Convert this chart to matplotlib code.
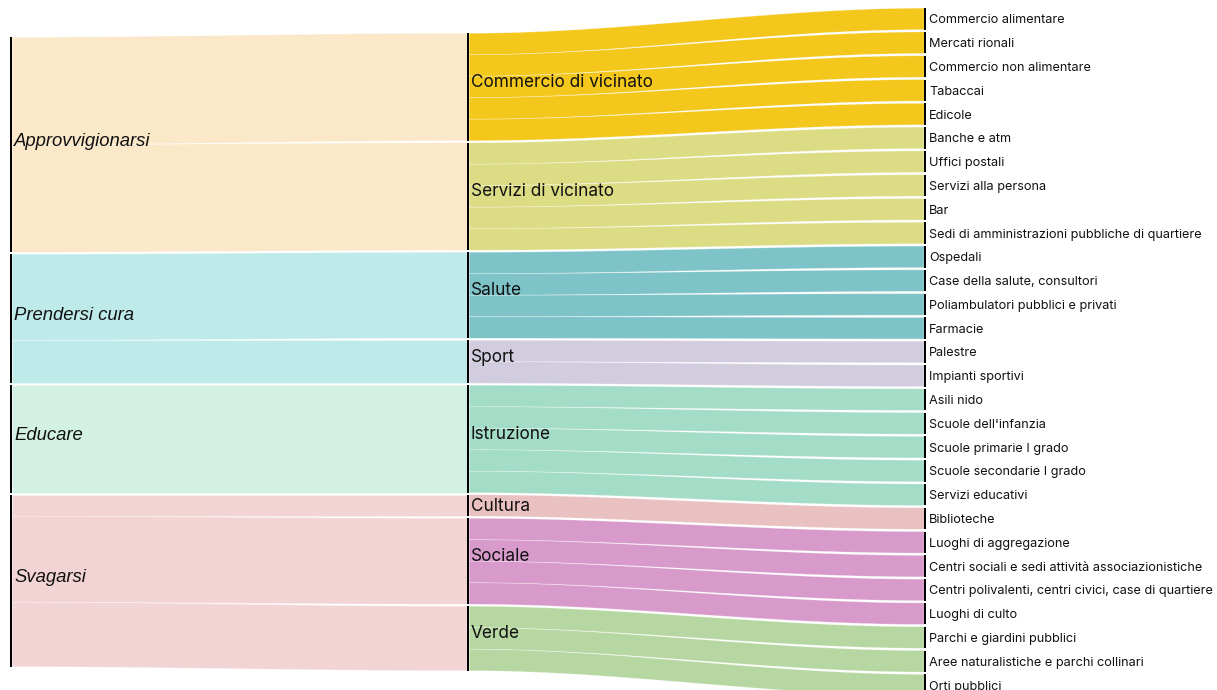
import numpy as np
import matplotlib
matplotlib.use("Agg")
import matplotlib.pyplot as plt

# ---------------- data ----------------
left_names = ["Approvvigionarsi", "Prendersi cura", "Educare", "Svagarsi"]
left_colors = ["#FBE8C9", "#BEEAEA", "#D2F1E3", "#F3D4D4"]

mid_names = ["Commercio di vicinato", "Servizi di vicinato", "Salute", "Sport",
             "Istruzione", "Cultura", "Sociale", "Verde"]
mid_parent = [0, 0, 1, 1, 2, 3, 3, 3]
mid_colors = ["#F4C71D", "#DCDC84", "#7DC3C8", "#D2CDDE",
              "#A3DCC7", "#E9C1C1", "#D79ACB", "#B7D7A2"]

leaf_names = [
    "Commercio alimentare", "Mercati rionali", "Commercio non alimentare", "Tabaccai", "Edicole",
    "Banche e atm", "Uffici postali", "Servizi alla persona", "Bar",
    "Sedi di amministrazioni pubbliche di quartiere",
    "Ospedali", "Case della salute, consultori", "Poliambulatori pubblici e privati", "Farmacie",
    "Palestre", "Impianti sportivi",
    "Asili nido", "Scuole dell'infanzia", "Scuole primarie I grado", "Scuole secondarie I grado",
    "Servizi educativi",
    "Biblioteche",
    "Luoghi di aggregazione", "Centri sociali e sedi attività associazionistiche",
    "Centri polivalenti, centri civici, case di quartiere", "Luoghi di culto",
    "Parchi e giardini pubblici", "Aree naturalistiche e parchi collinari", "Orti pubblici",
]
leaf_parent = [0] * 5 + [1] * 5 + [2] * 4 + [3] * 2 + [4] * 5 + [5] + [6] * 4 + [7] * 3
leaf_values = [1] * 29

# ---------------- layout ----------------
W, H = 1217, 690
ky = 21.5          # px per unit
cy = 352.0         # vertical centre of all columns
x_left, x_mid, x_right = 10, 467, 924
bar_w = 2.2
pads = [2.0, 2.0, 2.29]

mid_values = [sum(v for v, p in zip(leaf_values, leaf_parent) if p == i) for i in range(len(mid_names))]
left_values = [sum(v for v, p in zip(mid_values, mid_parent) if p == i) for i in range(len(left_names))]


def column(values, pad):
    total = sum(values) * ky + (len(values) - 1) * pad
    y = cy - total / 2
    out = []
    for v in values:
        out.append((y, y + v * ky))
        y += v * ky + pad
    return out


left_pos = column(left_values, pads[0])
mid_pos = column(mid_values, pads[1])
leaf_pos = column(leaf_values, pads[2])

fig = plt.figure(figsize=(W / 100, H / 100), dpi=100)
ax = fig.add_axes([0, 0, 1, 1])
ax.set_xlim(0, W)
ax.set_ylim(H, 0)
ax.axis("off")

t = np.linspace(0, 1, 80)
s = 3 * t ** 2 - 2 * t ** 3


def band(x0, x1, a0, a1, b0, b1, color):
    xs = x0 + (x1 - x0) * t
    top = a0 + (b0 - a0) * s
    bot = a1 + (b1 - a1) * s
    px = np.concatenate([xs, xs[::-1]])
    py = np.concatenate([top, bot[::-1]])
    ax.fill(px, py, facecolor=color, edgecolor=(1, 1, 1, 0.35), linewidth=0.5, zorder=1)


# left -> middle links
offs = [p[0] for p in left_pos]
for i, (name, p) in enumerate(zip(mid_names, mid_parent)):
    h = mid_values[i] * ky
    a0 = offs[p]
    offs[p] += h
    band(x_left + bar_w, x_mid, a0, a0 + h, mid_pos[i][0], mid_pos[i][1], left_colors[p])

# middle -> right links
offs = [p[0] for p in mid_pos]
for j, p in enumerate(leaf_parent):
    h = leaf_values[j] * ky
    a0 = offs[p]
    offs[p] += h
    band(x_mid + bar_w, x_right, a0, a0 + h, leaf_pos[j][0], leaf_pos[j][1], mid_colors[p])

# node bars
for (y0, y1) in left_pos:
    ax.fill_between([x_left, x_left + bar_w], y0, y1, color="black", zorder=3, linewidth=0)
for (y0, y1) in mid_pos:
    ax.fill_between([x_mid, x_mid + bar_w], y0, y1, color="black", zorder=3, linewidth=0)
for (y0, y1) in leaf_pos:
    ax.fill_between([x_right, x_right + bar_w], y0, y1, color="black", zorder=3, linewidth=0)

# labels
for name, (y0, y1) in zip(left_names, left_pos):
    ax.text(14, (y0 + y1) / 2 + 1, name, fontsize=13.3, style="italic",
            family="Liberation Sans", color="#111111", va="baseline", ha="left", zorder=4)
for name, (y0, y1) in zip(mid_names, mid_pos):
    yb = max((y0 + y1) / 2, y0 + 16)
    ax.text(471, yb, name, fontsize=12.4, family="Inter", color="#111111",
            va="baseline", ha="left", zorder=4)
for name, (y0, y1) in zip(leaf_names, leaf_pos):
    ax.text(929, (y0 + y1) / 2 + 4.5, name, fontsize=9.15, family="Inter", color="#111111",
            va="baseline", ha="left", zorder=4)

fig.savefig("out.png", dpi=100)
